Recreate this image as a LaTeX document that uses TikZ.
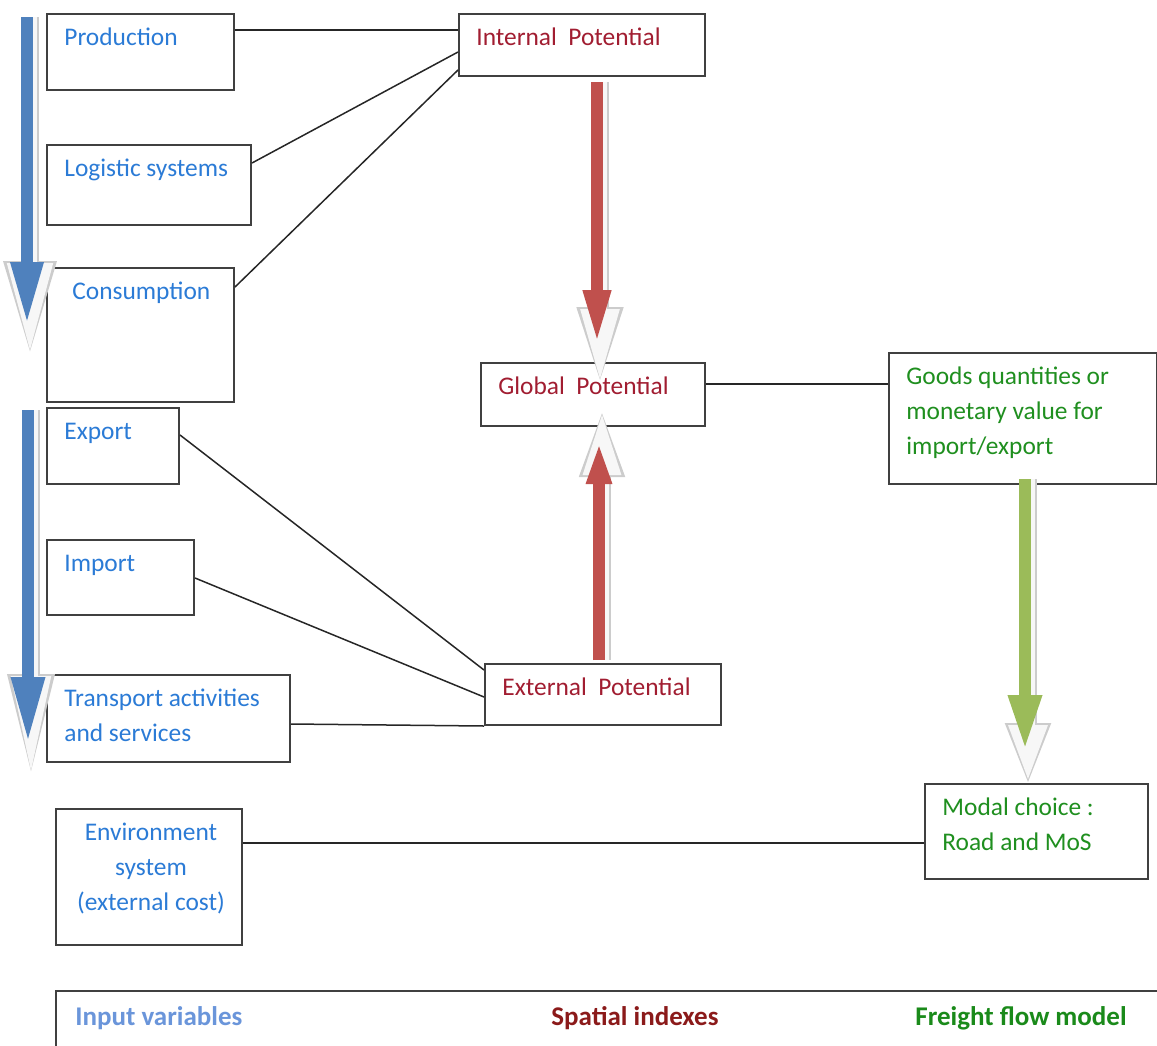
\documentclass[tikz,border=0pt]{standalone}
\usepackage{fontspec}
\setmainfont{Carlito}
\usepackage{xcolor}
\usetikzlibrary{arrows.meta}
\definecolor{inblue}{HTML}{2B7BD6}
\definecolor{spred}{HTML}{A11D31}
\definecolor{ffgreen}{HTML}{1F8F1F}
\definecolor{legblue}{HTML}{6A95DA}
\definecolor{legred}{HTML}{8B1A1A}
\definecolor{leggreen}{HTML}{1A8A1A}
\definecolor{arrblue}{HTML}{4F81BD}
\definecolor{arrred}{HTML}{C0504D}
\definecolor{arrgreen}{HTML}{9BBB59}

\begin{document}
\begin{tikzpicture}[x=0.5pt,y=-0.5pt,
    box/.style={draw=black!75,line width=1pt,fill=white,inner sep=0pt,anchor=north west},
    lab/.style={anchor=base west,inner sep=0pt,xshift=9pt,yshift=-16.25pt,align=left,
                font=\fontsize{12.7}{17.5}\selectfont},
    two/.style={yshift=-17.5pt},
    three/.style={yshift=-35pt},
    leg/.style={anchor=base west,inner sep=0pt,yshift=-17.5pt,
                font=\fontsize{13.5}{16}\selectfont\bfseries},
    link/.style={draw=black!85,line width=0.75pt},
    blk/.style n args={3}{line width=6pt,draw=#1,-{Triangle[length=#2,width=#3]}},
    glow/.style n args={3}{
      preaction={draw=gray!40,line width=9pt,-{Triangle[length=#1,width=#2]},
                 shorten >=#3,transform canvas={xshift=1.5pt}},
      preaction={draw=gray!6,line width=7pt,-{Triangle[length=#1-2.5pt,width=#2-3pt]},
                 shorten >=#3+1.5pt,transform canvas={xshift=1.5pt}}}
  ]
  \useasboundingbox (0,0) rectangle (1157,1045);
  \clip (0,0) rectangle (1157,1045);

  % Input variables
  \node[box,minimum width=93.5pt,minimum height=38pt,
        label={[lab,text=inblue]north west:Production}] (prod) at (46,13) {};
  \node[box,minimum width=102pt,minimum height=40pt,
        label={[lab,text=inblue]north west:Logistic systems}] (logi) at (46,144) {};
  \node[box,minimum width=93.5pt,minimum height=67pt,
        label={[lab,text=inblue,xshift=4pt]north west:Consumption}] (cons) at (46,267) {};
  \node[box,minimum width=66pt,minimum height=38pt,
        label={[lab,text=inblue]north west:Export}] (expo) at (46,407) {};
  \node[box,minimum width=73.5pt,minimum height=37.5pt,
        label={[lab,text=inblue]north west:Import}] (impo) at (46,539) {};
  \node[box,minimum width=121.5pt,minimum height=43.5pt,
        label={[lab,two,text=inblue]north west:{Transport activities\\and services}}] (tran) at (46,674) {};
  \node[box,minimum width=93pt,minimum height=68pt,
        label={[lab,three,anchor=base,xshift=-8pt,align=center,text=inblue]north:{Environment\\system\\(external cost)}}] (envi) at (55,808) {};

  % Spatial indexes
  \node[box,minimum width=123pt,minimum height=31pt,
        label={[lab,text=spred]north west:Internal~~Potential}] (intp) at (458,13) {};
  \node[box,minimum width=112pt,minimum height=31.5pt,
        label={[lab,text=spred]north west:Global~~Potential}] (glob) at (480,362) {};
  \node[box,minimum width=118pt,minimum height=30.5pt,
        label={[lab,text=spred]north west:External~~Potential}] (extp) at (484,663) {};

  % Freight flow model
  \node[box,minimum width=134pt,minimum height=65.5pt,
        label={[lab,three,text=ffgreen]north west:{Goods quantities or\\monetary value for\\import/export}}] (good) at (888,352) {};
  \node[box,minimum width=111.5pt,minimum height=47.5pt,
        label={[lab,two,text=ffgreen]north west:{Modal choice :\\Road and MoS}}] (moda) at (924,783) {};

  % Legend
  \node[box,minimum width=600pt,minimum height=40pt,
        label={[leg,xshift=10pt,text=legblue]north west:Input variables},
        label={[leg,xshift=248pt,text=legred]north west:Spatial indexes},
        label={[leg,xshift=430pt,text=leggreen]north west:Freight flow model}] (legend) at (55,990) {};

  % links
  \draw[link] ([yshift=-8.5pt]prod.north east) -- ([yshift=-8.5pt]intp.north west);
  \draw[link] ([yshift=-9.5pt]logi.north east) -- ([yshift=-19.5pt]intp.north west);
  \draw[link] ([yshift=-10pt]cons.north east) -- ([yshift=-28.5pt]intp.north west);
  \draw[link] ([yshift=-14pt]expo.north east) -- ([yshift=-3.5pt]extp.north west);
  \draw[link] ([yshift=-19.5pt]impo.north east) -- ([yshift=-17pt]extp.north west);
  \draw[link] ([yshift=-25pt]tran.north east) -- (extp.south west);
  \draw[link] ([yshift=-11pt]glob.north east) -- ([yshift=-16pt]good.north west);
  \draw[link] ([yshift=-17.5pt]envi.north east) -- ([yshift=-30pt]moda.north west);

  % block arrows
  \coordinate (inA) at (27,17);
  \coordinate (inB) at (27,325);
  \coordinate (inC) at (28,410);
  \coordinate (inD) at (28,743);
  \draw[blk={arrblue}{31.5pt}{15pt},glow={48pt}{24pt}{-16pt}] (inA) -- (inB);
  \draw[blk={arrblue}{33pt}{15.5pt},glow={53pt}{21pt}{-18.5pt}] (inC) -- (inD);
  \draw[blk={arrred}{27.5pt}{12.5pt},glow={40pt}{20.5pt}{-12.5pt},shorten <=2.5pt,shorten >=8.5pt]
    ([xshift=7.5pt]intp.south) -- ([xshift=7.5pt]intp.south |- glob.north);
  \draw[blk={arrred}{21pt}{11.5pt},glow={35pt}{20pt}{-10pt},shorten <=1.5pt,shorten >=7.5pt]
    ([xshift=-2pt]extp.north) -- ([xshift=-2pt]extp.north |- glob.south);
  \draw[blk={arrgreen}{27.5pt}{15.5pt},glow={31.5pt}{20.5pt}{-1.5pt},shorten <=-3pt,shorten >=16.5pt]
    ([xshift=1pt]good.south) -- ([xshift=1pt]good.south |- moda.north);
\end{tikzpicture}
\end{document}
